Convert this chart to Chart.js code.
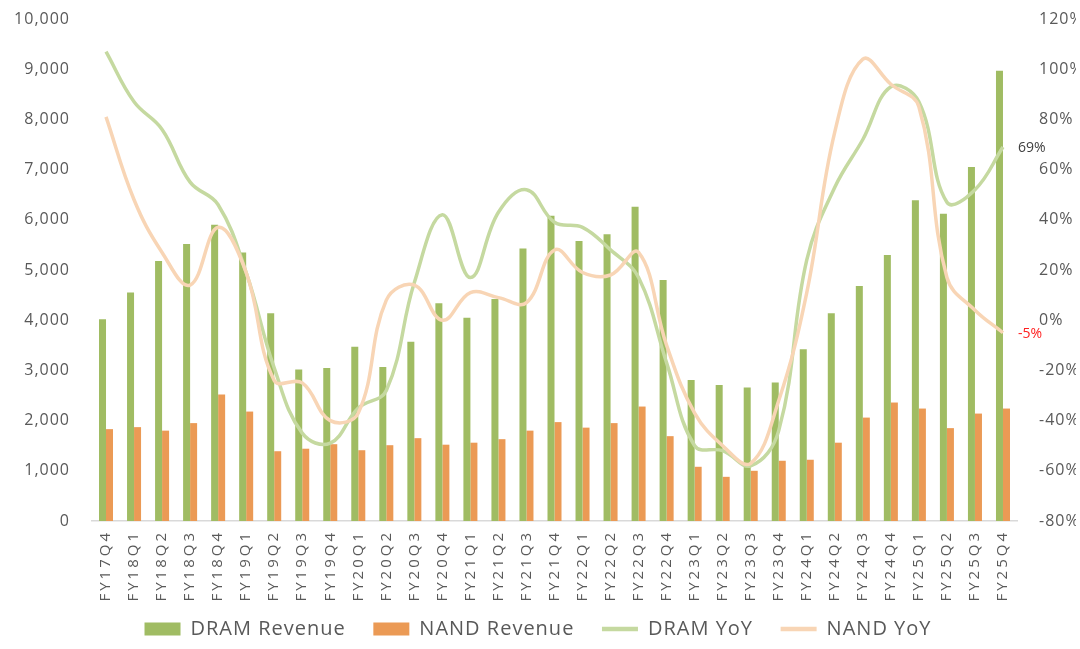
<!DOCTYPE html>
<html>
<head>
<meta charset="utf-8">
<script src="https://cdn.jsdelivr.net/npm/chart.js@4.4.1/dist/chart.umd.min.js"></script>
<style>
  html, body { margin: 0; padding: 0; background: #fff; }
  #wrap { width: 1080px; height: 649px; }
</style>
</head>
<body>
<div id="wrap"><canvas id="chart" width="1080" height="649"></canvas></div>
<script>
const quarters = ['FY17Q4',
  'FY18Q1', 'FY18Q2', 'FY18Q3', 'FY18Q4',
  'FY19Q1', 'FY19Q2', 'FY19Q3', 'FY19Q4',
  'FY20Q1', 'FY20Q2', 'FY20Q3', 'FY20Q4',
  'FY21Q1', 'FY21Q2', 'FY21Q3', 'FY21Q4',
  'FY22Q1', 'FY22Q2', 'FY22Q3', 'FY22Q4',
  'FY23Q1', 'FY23Q2', 'FY23Q3', 'FY23Q4',
  'FY24Q1', 'FY24Q2', 'FY24Q3', 'FY24Q4',
  'FY25Q1', 'FY25Q2', 'FY25Q3', 'FY25Q4'];

// revenue, left axis
const dramRevenue = [4020,
  4550, 5180, 5520, 5900,
  5350, 4140, 3020, 3050,
  3470, 3070, 3570, 4340,
  4050, 4420, 5430, 6080,
  5580, 5710, 6260, 4800,
  2810, 2710, 2660, 2760,
  3420, 4140, 4680, 5300,
  6390, 6120, 7050, 8970];

const nandRevenue = [1830,
  1870, 1800, 1950, 2520,
  2180, 1390, 1440, 1530,
  1410, 1510, 1650, 1520,
  1560, 1630, 1800, 1970,
  1860, 1950, 2280, 1690,
  1080, 880, 1000, 1200,
  1220, 1560, 2060, 2360,
  2240, 1850, 2140, 2240];

// YoY %, right axis
const dramYoY = [107,
  87, 76, 55, 46,
  19, -19, -45, -49,
  -35, -28, 15, 42,
  17, 43, 52, 39,
  37, 28, 17, -17,
  -50, -52, -58, -44,
  24, 53, 72, 93,
  87, 47, 52, 69];

const nandYoY = [81,
  48, 27, 14, 37,
  19, -24, -25, -40,
  -37, 8, 14, 0,
  11, 9, 7, 28,
  19, 18, 27, -10,
  -37, -50, -57, -32,
  11, 75, 104, 94,
  85, 17, 4, -5];

const leftTicks = { min: 0, max: 10000, step: 1000 };
const rightTicks = { min: -80, max: 120, step: 20 };

const textGrey = '#595959';
const font = '"Open Sans", sans-serif';

// the source renders its text a little spread out
const spacing = {
  id: 'spacing',
  beforeLayout(chart) { chart.ctx.letterSpacing = '1px'; },
  beforeDraw(chart) {
    chart.ctx.letterSpacing = '1px';
    const xs = chart.scales.x;
    if (!xs._spaced) {
      const orig = xs.drawLabels;
      xs.drawLabels = function (area) {
        const c = this.ctx;
        c.letterSpacing = '3px';
        orig.call(this, area);
        c.letterSpacing = '1px';
      };
      xs._spaced = true;
    }
  }
};

// end-of-line value labels (69%, -5%)
const endLabels = {
  id: 'endLabels',
  afterDatasetsDraw(chart) {
    const ctx = chart.ctx;
    ctx.save();
    ctx.letterSpacing = '0px';
    ctx.font = '14px ' + font;
    ctx.textBaseline = 'middle';
    ctx.textAlign = 'left';
    [[2, '#404040', 1], [3, '#ff2020', 1]].forEach(([idx, color, dy]) => {
      const meta = chart.getDatasetMeta(idx);
      const last = meta.data.length - 1;
      const pt = meta.data[last];
      ctx.fillStyle = color;
      ctx.fillText(chart.data.datasets[idx].data[last] + '%', pt.x + 15, pt.y + dy);
    });
    ctx.restore();
  }
};

function flatY(scale, width) {
  scale.width = width;
  scale.paddingTop = 0;
  scale.paddingBottom = 0;
}

new Chart(document.getElementById('chart'), {
  data: {
    labels: quarters,
    datasets: [
      {
        type: 'bar', label: 'DRAM Revenue', data: dramRevenue, yAxisID: 'y',
        backgroundColor: '#a0bc63', categoryPercentage: 0.5, barPercentage: 1.0,
        order: 2
      },
      {
        type: 'bar', label: 'NAND Revenue', data: nandRevenue, yAxisID: 'y',
        backgroundColor: '#eb9a55', categoryPercentage: 0.5, barPercentage: 1.0,
        order: 2
      },
      {
        type: 'line', label: 'DRAM YoY', data: dramYoY, yAxisID: 'y1',
        borderColor: '#c5d9a0', borderWidth: 3.5, pointRadius: 0, tension: 0.4,
        order: 1
      },
      {
        type: 'line', label: 'NAND YoY', data: nandYoY, yAxisID: 'y1',
        borderColor: '#f8d5b5', borderWidth: 3.5, pointRadius: 0, tension: 0.4,
        order: 0
      }
    ]
  },
  options: {
    responsive: false,
    animation: false,
    layout: { padding: { top: 19, left: 0, right: 4, bottom: 0 } },
    plugins: {
      legend: {
        position: 'bottom',
        labels: {
          usePointStyle: true,
          pointStyleWidth: 36,
          boxHeight: 13,
          padding: 9,
          color: textGrey,
          font: { size: 20, family: font },
          generateLabels(chart) {
            const n = chart.data.datasets.length;
            return chart.data.datasets.map((ds, i) => ({
              // trailing spaces widen the gap between legend items
              text: ds.label + (i < n - 1 ? '   ' : ''),
              fillStyle: ds.backgroundColor || ds.borderColor,
              strokeStyle: ds.type === 'line' ? ds.borderColor : ds.backgroundColor,
              lineWidth: ds.type === 'line' ? 4.5 : 0,
              pointStyle: ds.type === 'line' ? 'line' : 'rect',
              datasetIndex: i,
              hidden: false,
              fontColor: textGrey
            }));
          }
        }
      },
      tooltip: { enabled: false }
    },
    scales: {
      x: {
        grid: { display: false, drawTicks: false },
        border: { display: true, color: '#d9d9d9', width: 1.5 },
        ticks: {
          color: textGrey, minRotation: 90, maxRotation: 90, autoSkip: false,
          padding: 9,
          font: { size: 15, family: font }
        },
        afterFit(scale) { scale.height = 89; }
      },
      y: {
        position: 'left',
        min: leftTicks.min, max: leftTicks.max,
        grid: { display: false },
        border: { display: false },
        ticks: {
          stepSize: leftTicks.step, color: textGrey, padding: 14,
          font: { size: 16, family: font },
          callback: v => v.toLocaleString('en-US')
        },
        afterFit(scale) { flatY(scale, 92); }
      },
      y1: {
        position: 'right',
        min: rightTicks.min, max: rightTicks.max,
        grid: { display: false },
        border: { display: false },
        ticks: {
          stepSize: rightTicks.step, color: textGrey, padding: 14,
          font: { size: 16, family: font },
          callback: v => v + '%'
        },
        afterFit(scale) { flatY(scale, 59); }
      }
    }
  },
  plugins: [spacing, endLabels]
});
</script>
</body>
</html>
